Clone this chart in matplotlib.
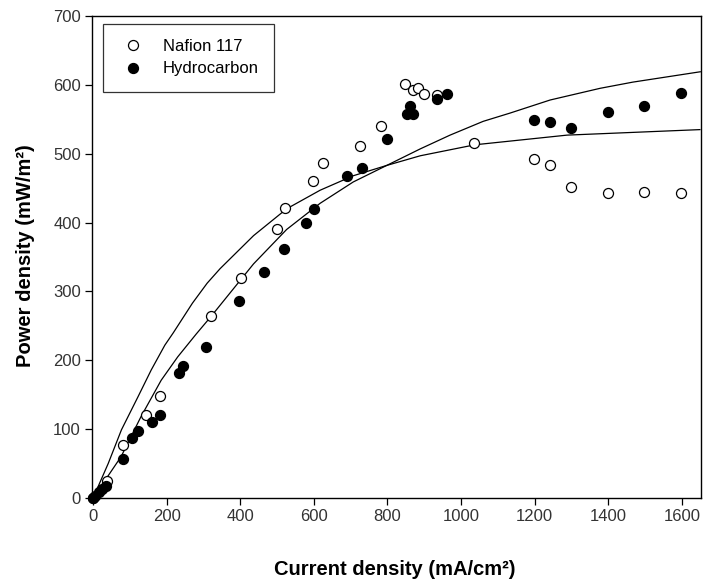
import matplotlib
matplotlib.use("Agg")
import matplotlib.pyplot as plt

plt.rcParams['font.family'] = ['Liberation Sans', 'DejaVu Sans']

# Measured data
nafion_x = [0, 38, 81, 144, 182, 321, 402, 500, 522, 598, 625, 726, 782,
            848, 870, 882, 898, 935, 1035, 1198, 1241, 1299, 1399, 1498, 1598]
nafion_y = [0, 25, 77, 120, 148, 264, 319, 390, 421, 461, 486, 511, 540,
            601, 593, 596, 587, 585, 515, 492, 483, 451, 443, 444, 443]

hydro_x = [0, 5, 15, 25, 35, 82, 105, 123, 161, 182, 234, 243, 306, 396,
           465, 519, 578, 599, 690, 731, 799, 853, 860, 870, 935, 962,
           1198, 1241, 1299, 1399, 1498, 1598]
hydro_y = [0, 3, 8, 13, 18, 57, 87, 97, 110, 120, 181, 192, 220, 286,
           328, 362, 400, 419, 467, 479, 521, 558, 570, 558, 579, 587,
           549, 546, 537, 560, 569, 588]

# Fitted curves
fitA_x = [0, 41, 77, 122, 158, 195, 218, 270, 310, 345, 436, 526, 617, 707,
          798, 889, 1038, 1288, 1649]
fitA_y = [0, 50, 99, 147, 186, 222, 240, 283, 312, 333, 381, 420, 447, 468,
          483, 497, 513, 527, 535]

fitB_x = [0, 76, 130, 185, 230, 280, 321, 436, 526, 617, 707, 798, 889,
          970, 1060, 1133, 1242, 1378, 1467, 1650]
fitB_y = [0, 60, 118, 171, 205, 238, 264, 340, 390, 428, 459, 483, 507,
          527, 547, 559, 578, 595, 604, 619]

xticks = [0, 200, 400, 600, 800, 1000, 1200, 1400, 1600]
yticks = [0, 100, 200, 300, 400, 500, 600, 700]

fig = plt.figure(figsize=(7.04, 5.85), dpi=100)
ax = fig.add_axes([92/704, 1-498/585, (701-92)/704, (498-16)/585])

ax.plot(fitA_x, fitA_y, color='black', lw=0.9, zorder=2)
ax.plot(fitB_x, fitB_y, color='black', lw=0.9, zorder=2)
ax.plot(nafion_x, nafion_y, 'o', ms=7.2, mfc='white', mec='black', mew=0.9,
        ls='none', label='Nafion 117', zorder=3, clip_on=False)
ax.plot(hydro_x, hydro_y, 'o', ms=7.2, mfc='black', mec='black', mew=0.9,
        ls='none', label='Hydrocarbon', zorder=4, clip_on=False)

ax.set_xlim(-3, 1652)
ax.set_ylim(0, 700)
ax.set_xticks(xticks)
ax.set_yticks(yticks)
ax.tick_params(direction='out', length=5, width=0.9, labelsize=12,
               labelcolor='#333333', pad=3)
for s in ax.spines.values():
    s.set_linewidth(1.0)

ax.set_xlabel('Current density (mA/cm²)', fontsize=14.5, fontweight='bold')
ax.set_ylabel('Power density (mW/m²)', fontsize=14.5, fontweight='bold')
ax.xaxis.set_label_coords(0.4975, -0.128)
ax.yaxis.set_label_coords(-0.093, 0.502)

leg = ax.legend(loc='upper left', bbox_to_anchor=(11/609, 1-8/482),
                borderaxespad=0, fontsize=12, frameon=True, fancybox=False,
                edgecolor='black', handletextpad=0.9, borderpad=0.9,
                labelspacing=0.45, handlelength=1.8)
leg.get_frame().set_linewidth(0.9)

fig.savefig('out.png', dpi=100)
